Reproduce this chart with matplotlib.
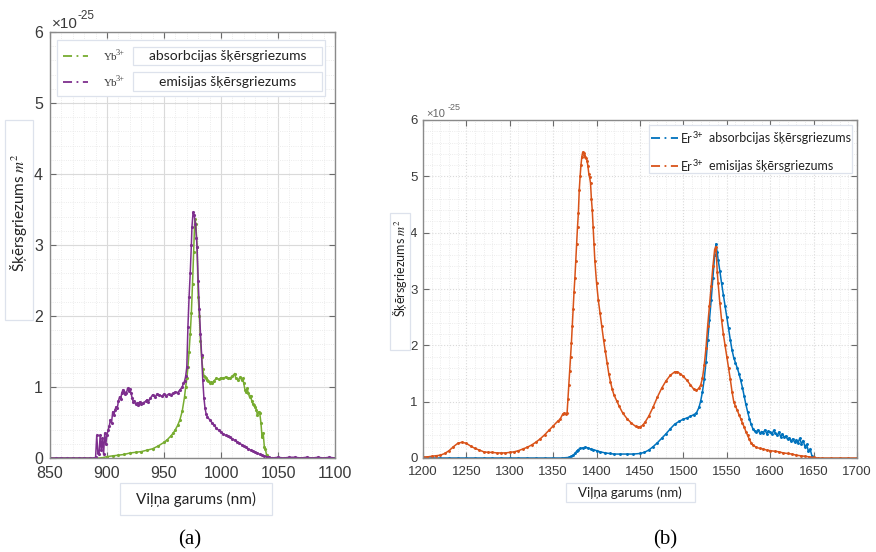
import matplotlib
matplotlib.use("Agg")
import matplotlib.pyplot as plt
from matplotlib.lines import Line2D
from matplotlib.patches import Rectangle
from matplotlib.ticker import MultipleLocator

# Yb3+ cross sections (x 1e-25 m^2) vs wavelength (nm)
yb_abs_nm = [850, 860, 870, 880, 890, 895, 900, 905, 910, 915, 920, 925, 930, 935, 940, 945,
             950, 953, 956, 958, 960, 962, 964, 966, 968, 969, 970, 971, 972, 973, 974, 975,
             976, 977, 978, 979, 980, 981, 982, 983, 984, 985, 986, 987, 988, 989, 990, 991,
             992, 994, 996, 998, 1000, 1002, 1004, 1006, 1008, 1010, 1012, 1013, 1015, 1017,
             1018, 1019, 1020, 1021, 1022, 1023, 1024, 1025, 1026, 1027, 1028, 1029, 1030,
             1031, 1032, 1033, 1034, 1035, 1036, 1037, 1038, 1039, 1040, 1041, 1045, 1050,
             1060, 1070, 1080, 1090, 1100]
yb_abs = [0, 0, 0, 0, 0, 0.0, 0.02, 0.03, 0.04, 0.05, 0.07, 0.08, 0.09, 0.11, 0.13, 0.17,
          0.22, 0.26, 0.31, 0.35, 0.40, 0.46, 0.54, 0.66, 0.86, 1.00, 1.12, 1.28, 1.50, 1.75,
          2.04, 2.45, 2.90, 3.37, 3.30, 2.97, 2.27, 2.00, 1.65, 1.42, 1.25, 1.16, 1.14, 1.12,
          1.10, 1.08, 1.06, 1.07, 1.05, 1.09, 1.12, 1.11, 1.13, 1.12, 1.14, 1.12, 1.13, 1.15,
          1.19, 1.12, 1.10, 1.14, 1.10, 1.12, 1.05, 0.96, 0.93, 0.98, 0.91, 0.86, 0.88, 0.80,
          0.76, 0.74, 0.72, 0.68, 0.60, 0.65, 0.63, 0.50, 0.30, 0.35, 0.16, 0.12, 0.04, 0.0,
          0, 0, 0, 0, 0, 0, 0]

yb_em_nm = [850, 855, 860, 865, 870, 875, 880, 885, 889, 890, 891, 892, 893, 894, 895, 896,
            897, 898, 899, 900, 901, 902, 903, 904, 905, 906, 907, 908, 909, 910, 911, 912,
            913, 914, 915, 916, 917, 918, 919, 920, 921, 922, 923, 924, 925, 926, 927, 928,
            929, 930, 932, 934, 935, 936, 938, 940, 942, 944, 946, 948, 950, 952, 954, 956,
            958, 960, 962, 964, 966, 967, 968, 969, 970, 971, 972, 973, 974, 974.5, 975.5,
            976.5, 977.5, 978.5, 979, 980, 981, 982, 983, 984, 985, 986, 987, 988, 990, 992,
            994, 996, 998, 1000, 1002, 1004, 1006, 1008, 1010, 1012, 1014, 1016, 1018, 1020,
            1022, 1024, 1026, 1028, 1030, 1032, 1034, 1036, 1038, 1040, 1042, 1045, 1050,
            1055, 1060, 1065, 1070, 1075, 1080, 1085, 1090, 1095, 1100]
yb_em = [0, 0, 0, 0, 0, 0, 0, 0, 0, 0.01, 0.32, 0.07, 0.05, 0.32, 0.11, 0.28,
         0.05, 0.35, 0.20, 0.33, 0.39, 0.45, 0.54, 0.50, 0.65, 0.60, 0.68, 0.72, 0.70, 0.80,
         0.86, 0.83, 0.92, 0.96, 0.93, 0.90, 0.91, 0.98, 0.95, 0.97, 0.92, 0.85, 0.79, 0.80,
         0.76, 0.77, 0.74, 0.78, 0.79, 0.76, 0.78, 0.80, 0.82, 0.79, 0.84, 0.89, 0.86, 0.90,
         0.89, 0.87, 0.90, 0.88, 0.90, 0.89, 0.91, 0.93, 0.92, 0.96, 1.00, 1.05, 1.08, 1.15,
         1.28, 1.85, 2.27, 2.60, 3.00, 3.25, 3.46, 3.42, 3.30, 3.10, 2.97, 2.50, 2.10, 1.75,
         1.45, 1.10, 0.85, 0.70, 0.62, 0.58, 0.54, 0.50, 0.46, 0.42, 0.39, 0.36, 0.34, 0.32,
         0.31, 0.30, 0.27, 0.25, 0.23, 0.21, 0.19, 0.17, 0.15, 0.13, 0.11, 0.10, 0.08, 0.07,
         0.05, 0.04, 0.03, 0.02, 0.01, 0.0, 0.01, 0.0, 0.01, 0.01, 0.0, 0.01, 0.0, 0.01, 0.0,
         0.01, 0.0]

# Er3+ cross sections (x 1e-25 m^2) vs wavelength (nm)
er_abs_nm = [1200, 1210, 1220, 1230, 1240, 1250, 1260, 1270, 1280, 1290, 1300, 1310, 1320,
             1330, 1340, 1350, 1360, 1368, 1371, 1373, 1375, 1377, 1379, 1381, 1384, 1387,
             1390, 1393, 1396, 1400, 1404, 1410, 1415, 1420, 1427, 1435, 1442, 1450, 1455,
             1460, 1465, 1470, 1475, 1480, 1485, 1490, 1495, 1500, 1504, 1508, 1512, 1515,
             1518, 1520, 1522, 1524, 1526, 1528, 1530, 1532, 1534, 1536, 1537.5, 1539, 1540,
             1542, 1544, 1546, 1548, 1550, 1552, 1554, 1556, 1558, 1560, 1562, 1564, 1566,
             1568, 1570, 1572, 1574, 1576, 1578, 1580, 1582, 1584, 1586, 1588, 1590, 1592,
             1594, 1596, 1598, 1600, 1602, 1604, 1606, 1608, 1610, 1612, 1614, 1616, 1618,
             1620, 1622, 1624, 1626, 1628, 1630, 1632, 1634, 1636, 1638, 1640, 1642, 1644,
             1646, 1648]
er_abs = [0, 0, 0, 0, 0, 0, 0, 0, 0, 0, 0, 0, 0,
          0, 0, 0, 0, 0.01, 0.03, 0.05, 0.08, 0.12, 0.15, 0.17, 0.18, 0.19,
          0.18, 0.16, 0.15, 0.13, 0.11, 0.09, 0.08, 0.07, 0.07, 0.07, 0.07, 0.08, 0.10,
          0.14, 0.20, 0.27, 0.35, 0.43, 0.52, 0.60, 0.65, 0.69, 0.71, 0.74, 0.77, 0.80,
          0.90, 1.02, 1.18, 1.40, 1.70, 2.10, 2.45, 2.80, 3.20, 3.60, 3.80, 3.65, 3.52,
          3.32, 3.10, 2.90, 2.70, 2.50, 2.30, 2.10, 1.92, 1.78, 1.69, 1.60, 1.50, 1.38,
          1.25, 1.10, 0.95, 0.82, 0.70, 0.60, 0.52, 0.48, 0.46, 0.50, 0.44, 0.47, 0.45,
          0.50, 0.43, 0.48, 0.46, 0.42, 0.49, 0.44, 0.40, 0.46, 0.38, 0.43, 0.37, 0.39,
          0.33, 0.36, 0.30, 0.34, 0.28, 0.32, 0.27, 0.35, 0.25, 0.31, 0.20, 0.24, 0.12,
          0.16, 0.04]

er_em_nm = [1200, 1205, 1210, 1215, 1220, 1225, 1230, 1235, 1240, 1245, 1250, 1255, 1260,
            1265, 1270, 1275, 1280, 1285, 1290, 1295, 1300, 1305, 1310, 1315, 1320, 1325,
            1330, 1335, 1340, 1345, 1350, 1355, 1358, 1361, 1363, 1365, 1366, 1367, 1368,
            1369, 1370, 1371, 1372, 1373, 1374, 1375, 1376, 1377, 1378, 1379, 1380, 1381,
            1382, 1383, 1384, 1385, 1386, 1387, 1388, 1389, 1390, 1391, 1392, 1393, 1394,
            1395, 1396, 1397, 1398, 1400, 1402, 1404, 1406, 1408, 1410, 1412, 1414, 1416,
            1418, 1420, 1423, 1426, 1430, 1435, 1440, 1445, 1448, 1450, 1453, 1456, 1460,
            1465, 1470, 1475, 1480, 1485, 1490, 1493, 1496, 1500, 1504, 1508, 1512, 1515,
            1518, 1520, 1522, 1524, 1526, 1528, 1530, 1532, 1534, 1536, 1537.5, 1539, 1540,
            1542, 1544, 1546, 1548, 1550, 1552, 1554, 1556, 1558, 1560, 1562, 1564, 1566,
            1568, 1570, 1572, 1574, 1576, 1578, 1580, 1584, 1588, 1592, 1596, 1600, 1605,
            1610, 1615, 1620, 1625, 1630, 1635, 1640, 1645, 1650, 1655, 1660, 1670, 1680,
            1690, 1700]
er_em = [0.02, 0.02, 0.03, 0.04, 0.05, 0.08, 0.13, 0.20, 0.26, 0.28, 0.26, 0.21, 0.17,
         0.14, 0.11, 0.10, 0.10, 0.09, 0.09, 0.09, 0.10, 0.11, 0.13, 0.16, 0.19, 0.23,
         0.28, 0.34, 0.41, 0.49, 0.57, 0.65, 0.69, 0.78, 0.80, 0.78, 0.80, 1.05, 1.30,
         1.55, 1.80, 2.05, 2.35, 2.65, 2.95, 3.20, 3.50, 3.80, 4.10, 4.35, 4.75, 5.00,
         5.20, 5.35, 5.43, 5.42, 5.38, 5.35, 5.32, 5.28, 5.18, 5.05, 4.98, 4.88, 4.60,
         4.40, 4.10, 3.80, 3.50, 3.10, 2.80, 2.57, 2.35, 2.10, 1.90, 1.69, 1.50, 1.35,
         1.22, 1.12, 1.02, 0.92, 0.80, 0.70, 0.62, 0.56, 0.55, 0.55, 0.58, 0.64, 0.74,
         0.90, 1.08, 1.24, 1.37, 1.47, 1.53, 1.53, 1.50, 1.45, 1.38, 1.30, 1.22, 1.20,
         1.24, 1.30, 1.42, 1.65, 1.95, 2.35, 2.70, 3.05, 3.40, 3.70, 3.75, 3.30, 3.10,
         2.75, 2.45, 2.20, 2.00, 1.80, 1.60, 1.40, 1.18, 1.00, 0.92, 0.85, 0.77, 0.70,
         0.62, 0.55, 0.47, 0.40, 0.33, 0.27, 0.23, 0.19, 0.17, 0.16, 0.14, 0.13, 0.12,
         0.11, 0.09, 0.08, 0.07, 0.05, 0.04, 0.03, 0.02, 0.01, 0.0, 0, 0, 0,
         0, 0]

GREEN = "#77AC30"
PURPLE = "#7E2F8E"
BLUE = "#0072BD"
ORANGE = "#D95319"
EDGE = "#dde2ec"
TXT = "#3a3a3a"
SANS = ["Lato", "DejaVu Sans"]
SERIF = ["Liberation Serif", "DejaVu Serif"]

plt.rcParams["font.family"] = ["Liberation Sans", "DejaVu Sans"]
plt.rcParams["mathtext.fontset"] = "stix"

W, H = 876, 552
fig = plt.figure(figsize=(W / 100, H / 100), dpi=100)


def px(x, y):
    # pixel position (from top-left) -> figure fraction
    return x / W, 1 - y / H


def box(x0, y0, x1, y1, z=6):
    fig.add_artist(Rectangle(px(x0, y1), (x1 - x0) / W, (y1 - y0) / H, transform=fig.transFigure,
                             facecolor="white", edgecolor=EDGE, lw=0.9, zorder=z))


def sample(x0, x1, y, color):
    fig.add_artist(Line2D([x0 / W, x1 / W], [1 - y / H] * 2, transform=fig.transFigure,
                          color=color, lw=1.3, ls=(0, (5, 2.5, 1, 2.5)), zorder=8))


def style_axes(ax, xlim, xstep, fs, major_ls):
    ax.set_xlim(*xlim)
    ax.set_ylim(0, 6)
    ax.xaxis.set_major_locator(MultipleLocator(xstep))
    ax.xaxis.set_minor_locator(MultipleLocator(10))
    ax.yaxis.set_major_locator(MultipleLocator(1))
    ax.yaxis.set_minor_locator(MultipleLocator(0.2))
    ax.tick_params(which="both", direction="in", top=True, right=True, colors="#6a6a6a",
                   labelcolor=TXT, labelsize=fs)
    ax.tick_params(which="major", length=4, width=0.8)
    ax.tick_params(which="minor", length=0)
    for s in ax.spines.values():
        s.set_color("#8a8a8a")
        s.set_linewidth(1.0)
    ax.grid(which="major", color="#dadada", lw=0.8, ls=major_ls)
    ax.grid(which="minor", color="#e6e6e6", lw=0.6, ls=":")
    ax.set_axisbelow(True)


# ---- (a) Yb3+ ----
ax1 = fig.add_axes([50 / W, 1 - 458 / H, 285 / W, 426 / H])
style_axes(ax1, (850, 1100), 50, 11.5, "-")
ax1.tick_params(axis="x", pad=6)
ax1.tick_params(axis="y", pad=5)
ax1.plot(yb_abs_nm, yb_abs, color=GREEN, lw=1.1, marker=".", ms=2.5)
ax1.plot(yb_em_nm, yb_em, color=PURPLE, lw=1.1, marker=".", ms=2.5)

fig.text(*px(52, 28), "×10", fontsize=11, color=TXT, va="baseline")
fig.text(*px(78, 19), "-25", fontsize=8.5, color=TXT, va="baseline")

# legend block
box(57, 40, 325, 96, z=5)
box(133, 47, 322, 65)
box(133, 72, 322, 91)
sample(63, 88, 56, GREEN)
sample(63, 88, 82, PURPLE)
for yy, desc in [(56, "absorbcijas šķērsgriezums"), (82, "emisijas šķērsgriezums")]:
    fig.text(*px(104, yy + 1), "Yb", fontsize=8, family=SERIF, color=TXT, va="center", zorder=8)
    fig.text(*px(116, yy - 3), "3+", fontsize=6, family=SERIF, color=TXT, va="center", zorder=8)
    fig.text(*px(228, yy), desc, fontsize=10, family=SANS, color="#222222",
             ha="center", va="center", zorder=8)

box(5, 120, 33, 320, z=1)
fig.text(*px(19, 213), "Šķērsgriezums $m^2$", fontsize=11, family=SANS, color="#222222",
         rotation=90, ha="center", va="center", zorder=8)
box(120, 483, 272, 515, z=1)
fig.text(*px(196, 499), "Viļņa garums (nm)", fontsize=11, family=SANS, color="#222222",
         ha="center", va="center", zorder=8)
fig.text(*px(190, 540), "(a)", fontsize=15, family=SERIF, color="black",
         ha="center", va="center")

# ---- (b) Er3+ ----
ax2 = fig.add_axes([423 / W, 1 - 458 / H, 434 / W, 338 / H])
style_axes(ax2, (1200, 1700), 50, 9.5, ":")
ax2.tick_params(axis="x", pad=6)
ax2.tick_params(axis="y", pad=4)
ax2.plot(er_abs_nm, er_abs, color=BLUE, lw=1.1, marker=".", ms=2.2)
ax2.plot(er_em_nm, er_em, color=ORANGE, lw=1.1, marker=".", ms=2.2)

fig.text(*px(426, 117), "×10", fontsize=8, color="#666666", va="baseline")
fig.text(*px(448, 110), "-25", fontsize=6.5, color="#666666", va="baseline")

box(649, 125, 852, 173, z=5)
sample(651, 678, 138, BLUE)
sample(651, 678, 166, ORANGE)
for yy, desc in [(138, "absorbcijas šķērsgriezums"), (166, "emisijas šķērsgriezums")]:
    fig.text(*px(681, yy + 1), "Er", fontsize=9, family=SANS, color="#222222",
             va="center", zorder=8)
    fig.text(*px(693, yy - 3), "3+", fontsize=6.5, family=SANS, color="#222222",
             va="center", zorder=8)
    fig.text(*px(709, yy), desc, fontsize=9, family=SANS, color="#222222",
             va="center", zorder=8)

box(390, 213, 410, 350, z=1)
fig.text(*px(400, 268), "Šķērsgriezums $m^2$", fontsize=9, family=SANS, color="#222222",
         rotation=90, ha="center", va="center", zorder=8)
box(566, 483, 695, 502, z=1)
fig.text(*px(630, 493), "Viļņa garums (nm)", fontsize=9.5, family=SANS, color="#222222",
         ha="center", va="center", zorder=8)
fig.text(*px(665, 540), "(b)", fontsize=15, family=SERIF, color="black",
         ha="center", va="center")

fig.savefig("out.png", dpi=100)
